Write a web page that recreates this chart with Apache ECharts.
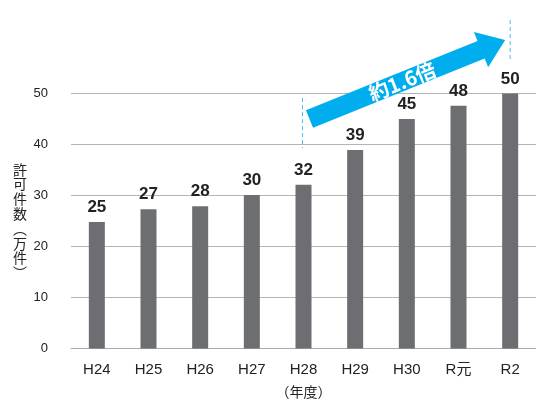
<!DOCTYPE html>
<html><head><meta charset="utf-8">
<script src="https://cdn.jsdelivr.net/npm/echarts@6/dist/echarts.min.js"></script>
<style>html,body{margin:0;padding:0;background:#fff}#c{width:536px;height:401px}</style>
</head><body><div id="c"></div>
<script>
const categories = ['H24','H25','H26','H27','H28','H29','H30','R元','R2'];
const values = [24.8, 27.3, 27.9, 30.1, 32.1, 38.9, 45.0, 47.6, 50.2];
const valueLabels = ['25','27','28','30','32','39','45','48','50'];
const yTicks = [0, 10, 20, 30, 40, 50];
const yTitle = '許可件数︵万件︶';
const xTitle = '（年度）';
const arrowText = '約1.6倍';

const chart = echarts.init(document.getElementById('c'));
chart.setOption({
  animation: false,
  grid: {left: 71, right: 0, top: 93.5, bottom: 52.5, containLabel: false, outerBoundsMode: 'none'},
  xAxis: {
    type: 'category', data: categories,
    axisLine: {show: true, lineStyle: {color: '#aaaaaa', width: 1}},
    axisTick: {show: false},
    axisLabel: {color: '#222', fontSize: 15, fontFamily: 'Liberation Sans, Noto Sans CJK JP', margin: 14},
    name: xTitle, nameLocation: 'middle', nameGap: 36,
    nameTextStyle: {color: '#222', fontSize: 14, fontFamily: 'Noto Sans CJK JP'}
  },
  yAxis: {
    type: 'value', min: yTicks[0], max: yTicks[yTicks.length-1], interval: 10,
    axisLine: {show: false}, axisTick: {show: false},
    splitLine: {lineStyle: {color: '#b4b4b4', width: 1}},
    axisLabel: {color: '#222', fontSize: 13, fontFamily: 'Liberation Sans', margin: 23}
  },
  series: [{
    type: 'bar',
    data: values.map((v, i) => ({value: v, label: {formatter: valueLabels[i]}})),
    barWidth: 16,
    itemStyle: {color: '#6d6e71'},
    label: {show: true, position: 'top', distance: 6, color: '#222', fontSize: 17, fontWeight: 'bold', fontFamily: 'Liberation Sans'}
  }]
});

const P = (i, v) => chart.convertToPixel({gridIndex: 0}, [i, v]);
const s = P(4, 45); s[0] += 6;
const t = P(8, 60.5); t[0] -= 5;
const dx = t[0] - s[0], dy = t[1] - s[1];
const L = Math.sqrt(dx*dx + dy*dy);
const ang = Math.atan2(-dy, dx);
const hw = 9.5, hh = 19, hl = 26;
const d1a = P(4, 49.1), d1b = P(4, 39.3);
const d2a = P(8, 64.4), d2b = P(8, 56.2);
const dashStyle = {stroke: '#4fb8ea', lineWidth: 1, lineDash: [4, 3]};
chart.setOption({
  graphic: [
    {type: 'line', shape: {x1: d1a[0]-1, y1: d1a[1], x2: d1b[0]-1, y2: d1b[1]}, style: dashStyle},
    {type: 'line', shape: {x1: d2a[0], y1: d2a[1], x2: d2b[0], y2: d2b[1]}, style: dashStyle},
    {type: 'group', x: s[0], y: s[1], rotation: ang, children: [
      {type: 'polygon', shape: {points: [[0,-hw],[L-hl,-hw],[L-hl,-hh],[L,0],[L-hl,hh],[L-hl,hw],[0,hw]]},
       style: {fill: '#00aeef'}},
      {type: 'text', x: 100, y: 0, style: {text: arrowText, fill: '#fff', font: 'bold 20px "Noto Sans CJK JP"', align: 'center', verticalAlign: 'middle'}}
    ]},
    {type: 'text', x: 20, y: 221, style: {text: yTitle.split('').join('\n'), fill: '#222', font: '14px "Noto Sans CJK JP"', lineHeight: 14.8, align: 'center', verticalAlign: 'middle'}}
  ]
});
</script></body></html>
